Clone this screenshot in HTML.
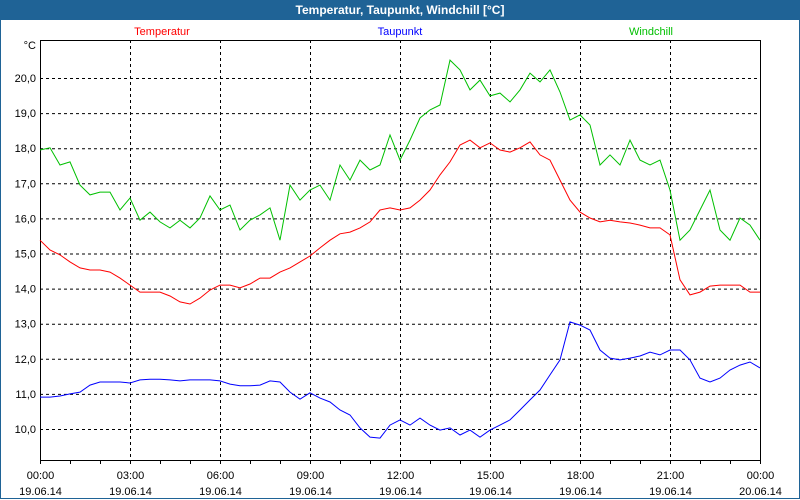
<!DOCTYPE html>
<html><head><meta charset="utf-8"><style>
body{margin:0;width:800px;height:500px;overflow:hidden;background:#fff;font-family:"Liberation Sans",sans-serif}
#frame{position:absolute;left:0;top:0;width:798px;height:498px;border:1px solid #1f6396;border-top:none}
#title{position:absolute;left:0;top:0;width:800px;height:20px;background:#1f6396;color:#fff;font-weight:bold;font-size:12px;text-align:center;line-height:20px}
svg{position:absolute;left:0;top:0}
</style></head><body>
<div id="frame"></div>
<div id="title">Temperatur, Taupunkt, Windchill [°C]</div>
<svg id="c" width="800" height="500"></svg>
<script>
const xLabels=["00:00","03:00","06:00","09:00","12:00","15:00","18:00","21:00","00:00"];
const dateLabels=["19.06.14","19.06.14","19.06.14","19.06.14","19.06.14","19.06.14","19.06.14","19.06.14","20.06.14"];
const yTicks=[10,11,12,13,14,15,16,17,18,19,20];
const temperatur=[15.38,15.10,14.96,14.76,14.59,14.53,14.53,14.47,14.30,14.10,13.90,13.90,13.90,13.79,13.62,13.56,13.73,13.96,14.10,14.10,14.02,14.13,14.30,14.30,14.47,14.59,14.76,14.93,15.16,15.38,15.56,15.61,15.73,15.90,16.24,16.30,16.24,16.30,16.52,16.81,17.24,17.61,18.09,18.23,18.01,18.15,17.95,17.89,18.01,18.18,17.81,17.66,17.09,16.52,16.18,16.01,15.90,15.95,15.90,15.87,15.81,15.73,15.73,15.53,14.25,13.82,13.90,14.07,14.10,14.10,14.10,13.90,13.90];
const taupunkt=[10.91,10.91,10.94,11.00,11.05,11.25,11.34,11.34,11.34,11.31,11.40,11.42,11.42,11.40,11.37,11.40,11.40,11.40,11.37,11.28,11.23,11.23,11.25,11.37,11.34,11.05,10.85,11.03,10.88,10.77,10.54,10.40,10.03,9.77,9.74,10.11,10.26,10.11,10.31,10.11,9.97,10.03,9.83,9.97,9.77,9.97,10.11,10.26,10.54,10.83,11.11,11.54,11.97,13.05,12.96,12.82,12.25,12.02,11.97,12.02,12.08,12.19,12.11,12.25,12.25,11.97,11.45,11.34,11.45,11.68,11.82,11.91,11.74];
const windchill=[17.95,18.01,17.52,17.61,16.95,16.67,16.75,16.75,16.24,16.58,15.95,16.18,15.90,15.73,15.95,15.73,16.01,16.64,16.24,16.38,15.67,15.95,16.10,16.30,15.38,16.95,16.52,16.81,16.95,16.52,17.52,17.09,17.66,17.38,17.52,18.38,17.66,18.23,18.86,19.09,19.23,20.51,20.23,19.66,19.94,19.49,19.57,19.32,19.66,20.14,19.89,20.23,19.60,18.80,18.95,18.66,17.52,17.81,17.52,18.23,17.66,17.52,17.66,16.81,15.38,15.67,16.24,16.81,15.67,15.38,16.01,15.81,15.38];
const svg=document.getElementById('c');const NS="http://www.w3.org/2000/svg";
const X0=40,X1=760,Y0=40,Y1=460;
function xs(i,n){return X0+(X1-X0)*i/(n-1);}
function ys(v){return 78+(20-v)*35.1;}
function mk(t,a){const e=document.createElementNS(NS,t);for(const k in a)e.setAttribute(k,a[k]);svg.appendChild(e);return e;}
let e;
for(const v of yTicks){
 e=mk('line',{x1:X0,x2:X1,y1:ys(v)+0.5,y2:ys(v)+0.5,stroke:'#000','stroke-dasharray':'3,3'});
 
 
 e=mk('text',{x:36,y:ys(v)+4,'text-anchor':'end','font-size':11});e.textContent=v.toFixed(1).replace('.',',');
 
 
}
for(let i=0;i<xLabels.length;i++){
 const x=X0+90*i+0.5;
 if(i>0&&i<xLabels.length-1){e=mk('line',{x1:x,x2:x,y1:Y0,y2:Y1,stroke:'#000','stroke-dasharray':'3,3'});
 
 }
 e=mk('text',{x:x,y:479,'text-anchor':'middle','font-size':11});e.textContent=xLabels[i];
 
 
 e=mk('text',{x:x,y:495,'text-anchor':'middle','font-size':11});e.textContent=dateLabels[i];
 
 
}
for(let h=0;h<=24;h++){e=mk('line',{x1:X0+30*h+0.5,x2:X0+30*h+0.5,y1:Y1,y2:Y1+4,stroke:'#000'});
 
 }
e=mk('rect',{x:X0+0.5,y:Y0+0.5,width:X1-X0,height:Y1-Y0,fill:'none',stroke:'#000'});


e=mk('text',{x:36,y:49,'text-anchor':'end','font-size':11});e.textContent='°C';


const series=[[temperatur,'#ff0000','Temperatur',162,'temperatur-line'],[taupunkt,'#0000ff','Taupunkt',400,'taupunkt-line'],[windchill,'#00c000','Windchill',651,'windchill-line']];
for(const s of series){
 const pts=s[0].map((v,i)=>xs(i,s[0].length).toFixed(1)+','+ys(v).toFixed(1)).join(' ');
 e=mk('polyline',{points:pts,fill:'none',stroke:s[1],'stroke-width':1});
 
 
 e=mk('text',{x:s[3],y:35,'text-anchor':'middle','font-size':11,fill:s[1]});e.textContent=s[2];
 
 
}
</script>
</body></html>
